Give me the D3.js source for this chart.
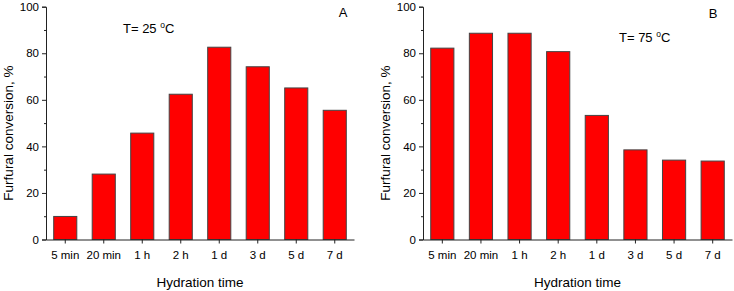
<!DOCTYPE html>
<html>
<head>
<meta charset="utf-8">
<script src="https://cdn.jsdelivr.net/npm/d3@7"></script>
<style>
body { margin: 0; background: #fff; }
svg { display: block; font-family: Arial, "Liberation Sans", sans-serif; }
</style>
</head>
<body>
<svg id="chart" width="734" height="291"></svg>
<script>
const categories = ["5 min", "20 min", "1 h", "2 h", "1 d", "3 d", "5 d", "7 d"];
const valuesA = [9.9, 28.1, 45.7, 62.4, 82.6, 74.2, 65.1, 55.5];
const valuesB = [82.2, 88.6, 88.6, 80.7, 53.3, 38.5, 34.1, 33.7];
const yTicks = [0, 20, 40, 60, 80, 100];
const yMinorTicks = [10, 30, 50, 70, 90];
const panels = [
  { values: valuesA, label: "A", temp: "25", x0: 46, x1: 354, labelX: 343, labelY: 17, tX: 123, tY: 33 },
  { values: valuesB, label: "B", temp: "75", x0: 423, x1: 732, labelX: 713, labelY: 18, tX: 619, tY: 42 }
];

const svg = d3.select("#chart");
const y = d3.scaleLinear().domain([0, 100]).range([239.5, 6.7]);

panels.forEach(p => {
  const g = svg.append("g");
  const x = d3.scaleBand().domain(categories).range([p.x0, p.x1]).paddingInner(0.4).paddingOuter(0.2);

  // bars
  g.selectAll("rect.bar").data(p.values).enter().append("rect")
    .attr("class", "bar")
    .attr("x", (d, i) => x(categories[i]))
    .attr("y", d => y(d))
    .attr("width", x.bandwidth())
    .attr("height", d => y(0) - y(d))
    .attr("fill", "#ff0000")
    .attr("stroke", "#444")
    .attr("stroke-width", 1);

  // y axis
  const yAxis = d3.axisLeft(y).tickValues(yTicks).tickSize(4).tickPadding(3);
  const ya = g.append("g").attr("transform", `translate(${p.x0},0)`).call(yAxis);
  ya.selectAll("text").attr("font-size", 11.5).attr("fill", "#000").attr("font-family", "Arial, 'Liberation Sans', sans-serif");
  ya.select(".domain").attr("stroke", "#222");
  ya.selectAll(".tick line").attr("stroke", "#222");
  g.append("g").attr("transform", `translate(${p.x0},0)`)
    .call(d3.axisLeft(y).tickValues(yMinorTicks).tickSize(2).tickFormat(""))
    .call(s => s.select(".domain").remove())
    .selectAll("line").attr("stroke", "#222");

  // x axis
  const xAxis = d3.axisBottom(x).tickSize(4).tickPadding(7).tickSizeOuter(0);
  const xa = g.append("g").attr("transform", `translate(0,${y(0)})`).call(xAxis);
  xa.selectAll("text").attr("font-size", 11.5).attr("fill", "#000").attr("font-family", "Arial, 'Liberation Sans', sans-serif");
  xa.select(".domain").attr("stroke", "#222");
  xa.selectAll(".tick line").attr("stroke", "#222");

  // axis titles
  g.append("text")
    .attr("transform", `translate(${p.x0 - 33},${(y(0) + y(100)) / 2 + 10}) rotate(-90)`)
    .attr("text-anchor", "middle")
    .attr("font-size", 13.5)
    .text("Furfural conversion, %");
  g.append("text")
    .attr("x", (p.x0 + p.x1) / 2)
    .attr("y", 287)
    .attr("text-anchor", "middle")
    .attr("font-size", 13.5)
    .text("Hydration time");

  // panel label
  g.append("text").attr("x", p.labelX).attr("y", p.labelY).attr("text-anchor", "middle")
    .attr("font-size", 13).text(p.label);

  // temperature annotation
  const t = g.append("text").attr("x", p.tX).attr("y", p.tY).attr("font-size", 13);
  t.append("tspan").text("T= " + p.temp + " ");
  t.append("tspan").attr("font-size", 8.5).attr("dy", -5).text("o");
  t.append("tspan").attr("dy", 5).text("C");
});
</script>
</body>
</html>
